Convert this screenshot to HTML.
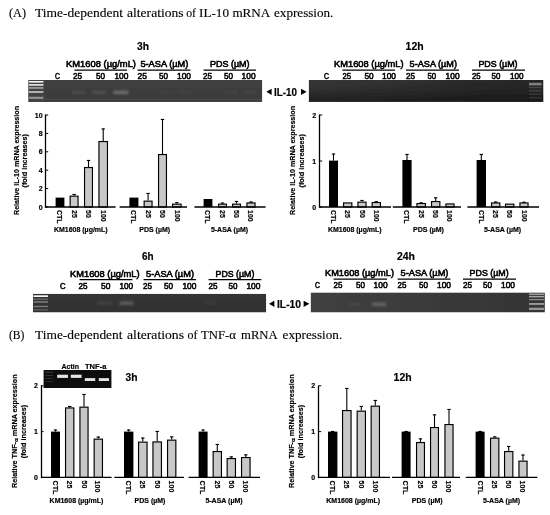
<!DOCTYPE html>
<html lang="en">
<head>
<meta charset="utf-8">
<title>Time-dependent alterations of IL-10 and TNF-α mRNA expression</title>
<style>
html,body{margin:0;padding:0;background:#fff;}
body{width:550px;height:515px;overflow:hidden;}
svg{display:block;}
text{fill:#000;}
.s{font-family:"Liberation Sans", Arial, sans-serif;font-weight:bold;stroke:#000;stroke-width:.18px;}
.sn{font-family:"Liberation Sans", Arial, sans-serif;font-weight:normal;}
.r{font-family:"Liberation Serif", "DejaVu Serif", serif;font-weight:normal;}
</style>
</head>
<body>
<svg width="550" height="515" viewBox="0 0 550 515">
<defs>
<filter id="soft" x="0" y="0" width="550" height="515" filterUnits="userSpaceOnUse"><feGaussianBlur stdDeviation="0.32"/></filter>
<filter id="b" x="-20%" y="-60%" width="140%" height="220%"><feGaussianBlur stdDeviation="0.5"/></filter>
<filter id="b2" x="-20%" y="-60%" width="140%" height="220%"><feGaussianBlur stdDeviation="0.9"/></filter>
<linearGradient id="g3" x1="0" y1="0" x2="0" y2="1"><stop offset="0" stop-color="#424242"/><stop offset="0.8" stop-color="#3a3a3a"/><stop offset="0.9" stop-color="#464646"/><stop offset="1" stop-color="#2c2c2c"/></linearGradient>
<linearGradient id="g12" x1="0" y1="0" x2="1" y2="0"><stop offset="0" stop-color="#363636"/><stop offset="0.45" stop-color="#303030"/><stop offset="0.7" stop-color="#2a2a2a"/><stop offset="1" stop-color="#282828"/></linearGradient>
<linearGradient id="gv" x1="0" y1="0" x2="0" y2="1"><stop offset="0" stop-color="#000" stop-opacity="0"/><stop offset="0.45" stop-color="#000" stop-opacity="0.12"/><stop offset="1" stop-color="#000" stop-opacity="0.42"/></linearGradient>
<linearGradient id="g6" x1="0" y1="0" x2="0" y2="1"><stop offset="0" stop-color="#363636"/><stop offset="1" stop-color="#303030"/></linearGradient>
<linearGradient id="g24" x1="0" y1="0" x2="1" y2="0"><stop offset="0" stop-color="#404040"/><stop offset="1" stop-color="#343434"/></linearGradient>
</defs>
<rect x="0" y="0" width="550" height="515" fill="#fff"/>
<text class="r" y="16.5" font-size="12.4" stroke="#000" stroke-width="0.12"><tspan x="9" textLength="17" lengthAdjust="spacingAndGlyphs">(A)</tspan> <tspan x="35" textLength="88" lengthAdjust="spacingAndGlyphs">Time-dependent</tspan> <tspan x="127" textLength="56.6" lengthAdjust="spacingAndGlyphs">alterations</tspan> <tspan x="186.2" textLength="9.8" lengthAdjust="spacingAndGlyphs">of</tspan> <tspan x="199" textLength="30" lengthAdjust="spacingAndGlyphs">IL-10</tspan> <tspan x="232.4" textLength="37.2" lengthAdjust="spacingAndGlyphs">mRNA</tspan> <tspan x="274" textLength="59.4" lengthAdjust="spacingAndGlyphs">expression.</tspan></text>
<text class="r" y="338.7" font-size="12.4" stroke="#000" stroke-width="0.12"><tspan x="9" textLength="15.4" lengthAdjust="spacingAndGlyphs">(B)</tspan> <tspan x="35" textLength="87.5" lengthAdjust="spacingAndGlyphs">Time-dependent</tspan> <tspan x="127" textLength="57" lengthAdjust="spacingAndGlyphs">alterations</tspan> <tspan x="187.4" textLength="10" lengthAdjust="spacingAndGlyphs">of</tspan> <tspan x="201" textLength="35" lengthAdjust="spacingAndGlyphs">TNF-α</tspan> <tspan x="241" textLength="36" lengthAdjust="spacingAndGlyphs">mRNA</tspan> <tspan x="282.6" textLength="59.6" lengthAdjust="spacingAndGlyphs">expression.</tspan></text>
<g filter="url(#soft)">
<clipPath id="cg3"><rect x="28.2" y="80" width="234.1" height="21.9"/></clipPath>
<g clip-path="url(#cg3)">
<rect x="28.2" y="80" width="234.1" height="21.9" fill="url(#g3)"/>
<rect x="28.2" y="80" width="16.3" height="21.9" fill="#4a4a4a" opacity="0.6" filter="url(#b2)"/>
<rect x="28.8" y="81" width="14.6" height="1.6" fill="#f6f6f6" opacity="1" filter="url(#b)"/>
<rect x="28.8" y="84" width="14.6" height="1.8" fill="#d8d8d8" opacity="1" filter="url(#b)"/>
<rect x="28.8" y="87.2" width="14.6" height="1.5" fill="#a8a8a8" opacity="1" filter="url(#b)"/>
<rect x="28.8" y="91" width="14.6" height="2" fill="#b0b0b0" opacity="1" filter="url(#b)"/>
<rect x="28.8" y="96.8" width="14.6" height="2" fill="#989898" opacity="1" filter="url(#b)"/>
<rect x="72" y="90.8" width="13" height="3.2" fill="#4b4b4b" opacity="1" filter="url(#b2)"/>
<rect x="92" y="90.8" width="14" height="3.2" fill="#505050" opacity="1" filter="url(#b2)"/>
<rect x="113.5" y="90.6" width="15" height="3.6" fill="#6c6c6c" opacity="1" filter="url(#b2)"/>
<rect x="181" y="90.8" width="13" height="3.2" fill="#464646" opacity="0.6" filter="url(#b2)"/>
<rect x="160" y="90.8" width="12" height="3.2" fill="#454545" opacity="0.5" filter="url(#b2)"/>
<rect x="225" y="90.8" width="13" height="3.2" fill="#4a4a4a" opacity="0.6" filter="url(#b2)"/>
<rect x="243" y="90.8" width="13" height="3.2" fill="#4c4c4c" opacity="0.6" filter="url(#b2)"/>
</g>
<clipPath id="cg12"><rect x="308.7" y="80" width="234.8" height="21.9"/></clipPath>
<g clip-path="url(#cg12)">
<rect x="308.7" y="80" width="234.8" height="21.9" fill="url(#g12)"/>
<rect x="308.7" y="80" width="234.8" height="21.9" fill="url(#gv)"/>
<rect x="529" y="82.8" width="12.6" height="2.6" fill="#808080" opacity="1" filter="url(#b)"/>
<rect x="529" y="87" width="12.6" height="1.2" fill="#484848" opacity="1" filter="url(#b)"/>
<rect x="529" y="90" width="12.6" height="1.4" fill="#404040" opacity="1" filter="url(#b)"/>
<rect x="529" y="93.5" width="12.6" height="1.5" fill="#383838" opacity="1" filter="url(#b)"/>
<rect x="529" y="97" width="12.6" height="1.5" fill="#303030" opacity="1" filter="url(#b)"/>
</g>
<clipPath id="cg6"><rect x="32.9" y="293.7" width="233.3" height="18.8"/></clipPath>
<g clip-path="url(#cg6)">
<rect x="32.9" y="293.7" width="233.3" height="18.8" fill="url(#g6)"/>
<rect x="33.4" y="295.3" width="14.6" height="1.7" fill="#f4f4f4" opacity="1" filter="url(#b)"/>
<rect x="33.4" y="298.7" width="14.6" height="0.9" fill="#808080" opacity="1" filter="url(#b)"/>
<rect x="33.4" y="301.3" width="14.6" height="1.3" fill="#8a8a8a" opacity="1" filter="url(#b)"/>
<rect x="33.4" y="305.8" width="14.6" height="1.4" fill="#7c7c7c" opacity="1" filter="url(#b)"/>
<rect x="33.4" y="309.3" width="14.6" height="1.1" fill="#6a6a6a" opacity="1" filter="url(#b)"/>
<rect x="97.5" y="301.4" width="14.5" height="3.6" fill="#424242" opacity="1" filter="url(#b2)"/>
<rect x="119.5" y="301.2" width="14" height="4" fill="#585858" opacity="1" filter="url(#b2)"/>
<rect x="205" y="301.4" width="12" height="3" fill="#3e3e3e" opacity="0.8" filter="url(#b2)"/>
</g>
<clipPath id="cg24"><rect x="310.6" y="292.4" width="234.3" height="20.1"/></clipPath>
<g clip-path="url(#cg24)">
<rect x="310.6" y="292.4" width="234.3" height="20.1" fill="url(#g24)"/>
<rect x="529" y="293.5" width="15.2" height="1.6" fill="#9c9c9c" opacity="1" filter="url(#b)"/>
<rect x="529" y="296" width="15.2" height="1.4" fill="#a4a4a4" opacity="1" filter="url(#b)"/>
<rect x="529" y="299" width="15.2" height="1.2" fill="#8c8c8c" opacity="1" filter="url(#b)"/>
<rect x="529" y="303" width="15.2" height="1.9" fill="#9a9a9a" opacity="1" filter="url(#b)"/>
<rect x="529" y="307.7" width="15.2" height="2.3" fill="#949494" opacity="1" filter="url(#b)"/>
<rect x="349" y="302.6" width="12.5" height="3.4" fill="#484848" opacity="0.8" filter="url(#b2)"/>
<rect x="372.2" y="302.4" width="14" height="3.8" fill="#626262" opacity="1" filter="url(#b2)"/>
</g>
<text class="s" x="137" y="50" font-size="10.4" textLength="12" lengthAdjust="spacingAndGlyphs">3h</text>
<text class="sn" x="55" y="79" font-size="8.6" textLength="5" lengthAdjust="spacingAndGlyphs" stroke="#000" stroke-width="0.55">C</text>
<text class="sn" x="66" y="66.6" font-size="8.6" textLength="70" lengthAdjust="spacingAndGlyphs" stroke="#000" stroke-width="0.55">KM1608 (µg/mL)</text>
<line x1="74.4" y1="70.1" x2="127" y2="70.1" stroke="#000" stroke-width="1.2"/>
<text class="sn" x="73" y="79" font-size="8.6" textLength="9" lengthAdjust="spacingAndGlyphs" stroke="#000" stroke-width="0.55">25</text>
<text class="sn" x="96" y="79" font-size="8.6" textLength="9" lengthAdjust="spacingAndGlyphs" stroke="#000" stroke-width="0.55">50</text>
<text class="sn" x="114.4" y="79" font-size="8.6" textLength="14" lengthAdjust="spacingAndGlyphs" stroke="#000" stroke-width="0.55">100</text>
<text class="sn" x="140.4" y="66.6" font-size="8.6" textLength="48" lengthAdjust="spacingAndGlyphs" stroke="#000" stroke-width="0.55">5-ASA (µM)</text>
<line x1="137.6" y1="70.1" x2="190.4" y2="70.1" stroke="#000" stroke-width="1.2"/>
<text class="sn" x="137.6" y="79" font-size="8.6" textLength="9.4" lengthAdjust="spacingAndGlyphs" stroke="#000" stroke-width="0.55">25</text>
<text class="sn" x="159" y="79" font-size="8.6" textLength="9" lengthAdjust="spacingAndGlyphs" stroke="#000" stroke-width="0.55">50</text>
<text class="sn" x="177" y="79" font-size="8.6" textLength="14" lengthAdjust="spacingAndGlyphs" stroke="#000" stroke-width="0.55">100</text>
<text class="sn" x="210" y="66.6" font-size="8.6" textLength="39.6" lengthAdjust="spacingAndGlyphs" stroke="#000" stroke-width="0.55">PDS (µM)</text>
<line x1="203.6" y1="70.1" x2="256" y2="70.1" stroke="#000" stroke-width="1.2"/>
<text class="sn" x="203" y="79" font-size="8.6" textLength="9" lengthAdjust="spacingAndGlyphs" stroke="#000" stroke-width="0.55">25</text>
<text class="sn" x="224" y="79" font-size="8.6" textLength="9" lengthAdjust="spacingAndGlyphs" stroke="#000" stroke-width="0.55">50</text>
<text class="sn" x="241.6" y="79" font-size="8.6" textLength="14" lengthAdjust="spacingAndGlyphs" stroke="#000" stroke-width="0.55">100</text>
<text class="s" x="405.6" y="50" font-size="10.4" textLength="18" lengthAdjust="spacingAndGlyphs">12h</text>
<text class="sn" x="324" y="79" font-size="8.6" textLength="5" lengthAdjust="spacingAndGlyphs" stroke="#000" stroke-width="0.55">C</text>
<text class="sn" x="334" y="66.6" font-size="8.6" textLength="69.6" lengthAdjust="spacingAndGlyphs" stroke="#000" stroke-width="0.55">KM1608 (µg/mL)</text>
<line x1="342.4" y1="70.1" x2="395" y2="70.1" stroke="#000" stroke-width="1.2"/>
<text class="sn" x="342.4" y="79" font-size="8.6" textLength="8.6" lengthAdjust="spacingAndGlyphs" stroke="#000" stroke-width="0.55">25</text>
<text class="sn" x="364.4" y="79" font-size="8.6" textLength="9.2" lengthAdjust="spacingAndGlyphs" stroke="#000" stroke-width="0.55">50</text>
<text class="sn" x="382" y="79" font-size="8.6" textLength="14" lengthAdjust="spacingAndGlyphs" stroke="#000" stroke-width="0.55">100</text>
<text class="sn" x="409.6" y="66.6" font-size="8.6" textLength="47.4" lengthAdjust="spacingAndGlyphs" stroke="#000" stroke-width="0.55">5-ASA (µM)</text>
<line x1="406" y1="70.1" x2="459" y2="70.1" stroke="#000" stroke-width="1.2"/>
<text class="sn" x="406" y="79" font-size="8.6" textLength="9" lengthAdjust="spacingAndGlyphs" stroke="#000" stroke-width="0.55">25</text>
<text class="sn" x="427.4" y="79" font-size="8.6" textLength="8.6" lengthAdjust="spacingAndGlyphs" stroke="#000" stroke-width="0.55">50</text>
<text class="sn" x="445.6" y="79" font-size="8.6" textLength="14" lengthAdjust="spacingAndGlyphs" stroke="#000" stroke-width="0.55">100</text>
<text class="sn" x="478.4" y="66.6" font-size="8.6" textLength="39.2" lengthAdjust="spacingAndGlyphs" stroke="#000" stroke-width="0.55">PDS (µM)</text>
<line x1="472" y1="70.1" x2="525" y2="70.1" stroke="#000" stroke-width="1.2"/>
<text class="sn" x="472" y="79" font-size="8.6" textLength="8.6" lengthAdjust="spacingAndGlyphs" stroke="#000" stroke-width="0.55">25</text>
<text class="sn" x="491.6" y="79" font-size="8.6" textLength="8.8" lengthAdjust="spacingAndGlyphs" stroke="#000" stroke-width="0.55">50</text>
<text class="sn" x="510" y="79" font-size="8.6" textLength="13.6" lengthAdjust="spacingAndGlyphs" stroke="#000" stroke-width="0.55">100</text>
<text class="s" x="142" y="260" font-size="10.4" textLength="11.6" lengthAdjust="spacingAndGlyphs">6h</text>
<text class="sn" x="60" y="289" font-size="8.6" textLength="5.6" lengthAdjust="spacingAndGlyphs" stroke="#000" stroke-width="0.55">C</text>
<text class="sn" x="70" y="276.6" font-size="8.6" textLength="69.6" lengthAdjust="spacingAndGlyphs" stroke="#000" stroke-width="0.55">KM1608 (µg/mL)</text>
<line x1="79.6" y1="279.7" x2="132.4" y2="279.7" stroke="#000" stroke-width="1.2"/>
<text class="sn" x="78.6" y="289" font-size="8.6" textLength="9" lengthAdjust="spacingAndGlyphs" stroke="#000" stroke-width="0.55">25</text>
<text class="sn" x="101" y="289" font-size="8.6" textLength="9.4" lengthAdjust="spacingAndGlyphs" stroke="#000" stroke-width="0.55">50</text>
<text class="sn" x="119.4" y="289" font-size="8.6" textLength="13.6" lengthAdjust="spacingAndGlyphs" stroke="#000" stroke-width="0.55">100</text>
<text class="sn" x="146" y="276.6" font-size="8.6" textLength="48" lengthAdjust="spacingAndGlyphs" stroke="#000" stroke-width="0.55">5-ASA (µM)</text>
<line x1="143.6" y1="279.7" x2="196" y2="279.7" stroke="#000" stroke-width="1.2"/>
<text class="sn" x="143" y="289" font-size="8.6" textLength="9" lengthAdjust="spacingAndGlyphs" stroke="#000" stroke-width="0.55">25</text>
<text class="sn" x="164" y="289" font-size="8.6" textLength="9" lengthAdjust="spacingAndGlyphs" stroke="#000" stroke-width="0.55">50</text>
<text class="sn" x="182.4" y="289" font-size="8.6" textLength="14" lengthAdjust="spacingAndGlyphs" stroke="#000" stroke-width="0.55">100</text>
<text class="sn" x="215.6" y="276.6" font-size="8.6" textLength="38.8" lengthAdjust="spacingAndGlyphs" stroke="#000" stroke-width="0.55">PDS (µM)</text>
<line x1="208.6" y1="279.7" x2="261.4" y2="279.7" stroke="#000" stroke-width="1.2"/>
<text class="sn" x="208.6" y="289" font-size="8.6" textLength="9" lengthAdjust="spacingAndGlyphs" stroke="#000" stroke-width="0.55">25</text>
<text class="sn" x="228.6" y="289" font-size="8.6" textLength="9" lengthAdjust="spacingAndGlyphs" stroke="#000" stroke-width="0.55">50</text>
<text class="sn" x="246.4" y="289" font-size="8.6" textLength="14" lengthAdjust="spacingAndGlyphs" stroke="#000" stroke-width="0.55">100</text>
<text class="s" x="397" y="260" font-size="10.4" textLength="18" lengthAdjust="spacingAndGlyphs">24h</text>
<text class="sn" x="315" y="288" font-size="8.6" textLength="5" lengthAdjust="spacingAndGlyphs" stroke="#000" stroke-width="0.55">C</text>
<text class="sn" x="325" y="276" font-size="8.6" textLength="69" lengthAdjust="spacingAndGlyphs" stroke="#000" stroke-width="0.55">KM1608 (µg/mL)</text>
<line x1="333.6" y1="279.1" x2="387" y2="279.1" stroke="#000" stroke-width="1.2"/>
<text class="sn" x="333.6" y="288" font-size="8.6" textLength="8.8" lengthAdjust="spacingAndGlyphs" stroke="#000" stroke-width="0.55">25</text>
<text class="sn" x="356" y="288" font-size="8.6" textLength="9" lengthAdjust="spacingAndGlyphs" stroke="#000" stroke-width="0.55">50</text>
<text class="sn" x="373.6" y="288" font-size="8.6" textLength="14" lengthAdjust="spacingAndGlyphs" stroke="#000" stroke-width="0.55">100</text>
<text class="sn" x="400.6" y="276" font-size="8.6" textLength="47.8" lengthAdjust="spacingAndGlyphs" stroke="#000" stroke-width="0.55">5-ASA (µM)</text>
<line x1="397.6" y1="279.1" x2="450.4" y2="279.1" stroke="#000" stroke-width="1.2"/>
<text class="sn" x="397.6" y="288" font-size="8.6" textLength="8.8" lengthAdjust="spacingAndGlyphs" stroke="#000" stroke-width="0.55">25</text>
<text class="sn" x="419" y="288" font-size="8.6" textLength="9" lengthAdjust="spacingAndGlyphs" stroke="#000" stroke-width="0.55">50</text>
<text class="sn" x="437" y="288" font-size="8.6" textLength="14" lengthAdjust="spacingAndGlyphs" stroke="#000" stroke-width="0.55">100</text>
<text class="sn" x="469.6" y="276" font-size="8.6" textLength="39" lengthAdjust="spacingAndGlyphs" stroke="#000" stroke-width="0.55">PDS (µM)</text>
<line x1="463" y1="279.1" x2="516" y2="279.1" stroke="#000" stroke-width="1.2"/>
<text class="sn" x="463" y="288" font-size="8.6" textLength="9" lengthAdjust="spacingAndGlyphs" stroke="#000" stroke-width="0.55">25</text>
<text class="sn" x="483" y="288" font-size="8.6" textLength="9" lengthAdjust="spacingAndGlyphs" stroke="#000" stroke-width="0.55">50</text>
<text class="sn" x="501" y="288" font-size="8.6" textLength="14" lengthAdjust="spacingAndGlyphs" stroke="#000" stroke-width="0.55">100</text>
<polygon points="266.4,91.8 271.6,88.68 271.6,94.92" fill="#000"/>
<polygon points="306.6,91.8 301,88.68 301,94.92" fill="#000"/>
<text class="s" x="274" y="95.5" font-size="10" textLength="23" lengthAdjust="spacingAndGlyphs">IL-10</text>
<polygon points="269,303.8 274.4,300.68 274.4,306.92" fill="#000"/>
<polygon points="309.4,303.8 303.6,300.68 303.6,306.92" fill="#000"/>
<text class="s" x="277" y="307.5" font-size="10" textLength="24" lengthAdjust="spacingAndGlyphs">IL-10</text>
<rect x="55.6" y="197.6" width="8.8" height="9.4" fill="#000"/>
<line x1="74.1" y1="194" x2="74.1" y2="195.6" stroke="#000" stroke-width="1.1"/>
<line x1="72.4" y1="194.45" x2="75.8" y2="194.45" stroke="#000" stroke-width="1.1"/>
<rect x="70.15" y="196.15" width="7.9" height="10.85" fill="#c8c8c8" stroke="#000" stroke-width="1.15"/>
<line x1="88.5" y1="160" x2="88.5" y2="167" stroke="#000" stroke-width="1.1"/>
<line x1="86.8" y1="160.45" x2="90.2" y2="160.45" stroke="#000" stroke-width="1.1"/>
<rect x="84.55" y="167.55" width="7.9" height="39.45" fill="#c8c8c8" stroke="#000" stroke-width="1.15"/>
<line x1="103.2" y1="128.5" x2="103.2" y2="141" stroke="#000" stroke-width="1.1"/>
<line x1="101.5" y1="128.95" x2="104.9" y2="128.95" stroke="#000" stroke-width="1.1"/>
<rect x="98.95" y="141.55" width="8.5" height="65.45" fill="#c8c8c8" stroke="#000" stroke-width="1.15"/>
<rect x="129.4" y="197.6" width="9" height="9.4" fill="#000"/>
<line x1="148.1" y1="193" x2="148.1" y2="200.6" stroke="#000" stroke-width="1.1"/>
<line x1="146.4" y1="193.45" x2="149.8" y2="193.45" stroke="#000" stroke-width="1.1"/>
<rect x="144.15" y="201.15" width="7.9" height="5.85" fill="#c8c8c8" stroke="#000" stroke-width="1.15"/>
<line x1="162.5" y1="119" x2="162.5" y2="154" stroke="#000" stroke-width="1.1"/>
<line x1="160.8" y1="119.45" x2="164.2" y2="119.45" stroke="#000" stroke-width="1.1"/>
<rect x="158.55" y="154.55" width="7.9" height="52.45" fill="#c8c8c8" stroke="#000" stroke-width="1.15"/>
<line x1="176.8" y1="202.2" x2="176.8" y2="203.6" stroke="#000" stroke-width="1.1"/>
<line x1="175.1" y1="202.65" x2="178.5" y2="202.65" stroke="#000" stroke-width="1.1"/>
<rect x="172.55" y="204.15" width="8.5" height="2.85" fill="#c8c8c8" stroke="#000" stroke-width="1.15"/>
<rect x="203.6" y="199" width="8.8" height="8" fill="#000"/>
<line x1="222.5" y1="202.6" x2="222.5" y2="203.6" stroke="#000" stroke-width="1.1"/>
<line x1="220.8" y1="203.05" x2="224.2" y2="203.05" stroke="#000" stroke-width="1.1"/>
<rect x="218.55" y="204.15" width="7.9" height="2.85" fill="#c8c8c8" stroke="#000" stroke-width="1.15"/>
<line x1="236.5" y1="201" x2="236.5" y2="203.6" stroke="#000" stroke-width="1.1"/>
<line x1="234.8" y1="201.45" x2="238.2" y2="201.45" stroke="#000" stroke-width="1.1"/>
<rect x="232.55" y="204.15" width="7.9" height="2.85" fill="#c8c8c8" stroke="#000" stroke-width="1.15"/>
<line x1="251" y1="201.6" x2="251" y2="202.4" stroke="#000" stroke-width="1.1"/>
<line x1="249.3" y1="202.05" x2="252.7" y2="202.05" stroke="#000" stroke-width="1.1"/>
<rect x="246.95" y="202.95" width="8.1" height="4.05" fill="#c8c8c8" stroke="#000" stroke-width="1.15"/>
<line x1="45.5" y1="114.5" x2="45.5" y2="207.8" stroke="#000" stroke-width="1.3"/>
<line x1="45.6" y1="207" x2="115.6" y2="207" stroke="#000" stroke-width="1.4"/>
<line x1="119.6" y1="207" x2="187" y2="207" stroke="#000" stroke-width="1.4"/>
<line x1="194.4" y1="207" x2="265.6" y2="207" stroke="#000" stroke-width="1.4"/>
<line x1="45.6" y1="207" x2="48.2" y2="207" stroke="#000" stroke-width="1"/>
<text class="s" x="42.6" y="209.55" font-size="7" text-anchor="end">0</text>
<line x1="45.6" y1="188.6" x2="48.2" y2="188.6" stroke="#000" stroke-width="1"/>
<text class="s" x="42.6" y="191.15" font-size="7" text-anchor="end">2</text>
<line x1="45.6" y1="170.2" x2="48.2" y2="170.2" stroke="#000" stroke-width="1"/>
<text class="s" x="42.6" y="172.75" font-size="7" text-anchor="end">4</text>
<line x1="45.6" y1="151.8" x2="48.2" y2="151.8" stroke="#000" stroke-width="1"/>
<text class="s" x="42.6" y="154.35" font-size="7" text-anchor="end">6</text>
<line x1="45.6" y1="133.4" x2="48.2" y2="133.4" stroke="#000" stroke-width="1"/>
<text class="s" x="42.6" y="135.95" font-size="7" text-anchor="end">8</text>
<line x1="45.6" y1="115" x2="48.2" y2="115" stroke="#000" stroke-width="1"/>
<text class="s" x="42.6" y="117.55" font-size="7" text-anchor="end">10</text>
<text class="s" font-size="7" transform="translate(57.1,210) rotate(90)">CTL</text>
<text class="s" font-size="7" transform="translate(71.5,210) rotate(90)">25</text>
<text class="s" font-size="7" transform="translate(86.1,210) rotate(90)">50</text>
<text class="s" font-size="7" transform="translate(100.5,210) rotate(90)">100</text>
<text class="s" font-size="7" transform="translate(131.1,210) rotate(90)">CTL</text>
<text class="s" font-size="7" transform="translate(145.5,210) rotate(90)">25</text>
<text class="s" font-size="7" transform="translate(160.1,210) rotate(90)">50</text>
<text class="s" font-size="7" transform="translate(174.5,210) rotate(90)">100</text>
<text class="s" font-size="7" transform="translate(205.1,210) rotate(90)">CTL</text>
<text class="s" font-size="7" transform="translate(219.9,210) rotate(90)">25</text>
<text class="s" font-size="7" transform="translate(234.1,210) rotate(90)">50</text>
<text class="s" font-size="7" transform="translate(247.9,210) rotate(90)">100</text>
<text class="s" x="80.8" y="232.2" font-size="7" text-anchor="middle">KM1608 (µg/mL)</text>
<text class="s" x="154.7" y="232.2" font-size="7" text-anchor="middle">PDS (µM)</text>
<text class="s" x="229.5" y="232.2" font-size="7" text-anchor="middle">5-ASA (µM)</text>
<text class="s" font-size="7" text-anchor="middle" textLength="109" lengthAdjust="spacingAndGlyphs" transform="translate(19,160.5) rotate(-90)">Relative IL-10 mRNA expression</text>
<text class="s" font-size="7" text-anchor="middle" transform="translate(27.2,160.8) rotate(-90)" textLength="53.4" lengthAdjust="spacingAndGlyphs">(fold increases)</text>
<line x1="333.5" y1="153.6" x2="333.5" y2="160.6" stroke="#000" stroke-width="1.1"/>
<line x1="331.8" y1="154.05" x2="335.2" y2="154.05" stroke="#000" stroke-width="1.1"/>
<rect x="329" y="160.6" width="9" height="46.4" fill="#000"/>
<rect x="343.55" y="202.95" width="8.3" height="4.05" fill="#c8c8c8" stroke="#000" stroke-width="1.15"/>
<line x1="362" y1="200" x2="362" y2="201.6" stroke="#000" stroke-width="1.1"/>
<line x1="360.3" y1="200.45" x2="363.7" y2="200.45" stroke="#000" stroke-width="1.1"/>
<rect x="357.95" y="202.15" width="8.1" height="4.85" fill="#c8c8c8" stroke="#000" stroke-width="1.15"/>
<line x1="376.3" y1="201.2" x2="376.3" y2="202" stroke="#000" stroke-width="1.1"/>
<line x1="374.6" y1="201.65" x2="378" y2="201.65" stroke="#000" stroke-width="1.1"/>
<rect x="372.15" y="202.55" width="8.3" height="4.45" fill="#c8c8c8" stroke="#000" stroke-width="1.15"/>
<line x1="407" y1="154" x2="407" y2="160" stroke="#000" stroke-width="1.1"/>
<line x1="405.3" y1="154.45" x2="408.7" y2="154.45" stroke="#000" stroke-width="1.1"/>
<rect x="402.4" y="160" width="9.2" height="47" fill="#000"/>
<line x1="421.2" y1="202.4" x2="421.2" y2="203" stroke="#000" stroke-width="1.1"/>
<line x1="419.5" y1="202.85" x2="422.9" y2="202.85" stroke="#000" stroke-width="1.1"/>
<rect x="416.95" y="203.55" width="8.5" height="3.45" fill="#c8c8c8" stroke="#000" stroke-width="1.15"/>
<line x1="435.7" y1="197.4" x2="435.7" y2="201" stroke="#000" stroke-width="1.1"/>
<line x1="434" y1="197.85" x2="437.4" y2="197.85" stroke="#000" stroke-width="1.1"/>
<rect x="431.55" y="201.55" width="8.3" height="5.45" fill="#c8c8c8" stroke="#000" stroke-width="1.15"/>
<rect x="445.95" y="203.95" width="8.1" height="3.05" fill="#c8c8c8" stroke="#000" stroke-width="1.15"/>
<line x1="481.3" y1="154" x2="481.3" y2="160" stroke="#000" stroke-width="1.1"/>
<line x1="479.6" y1="154.45" x2="483" y2="154.45" stroke="#000" stroke-width="1.1"/>
<rect x="476.6" y="160" width="9.4" height="47" fill="#000"/>
<line x1="495.7" y1="201.6" x2="495.7" y2="202.4" stroke="#000" stroke-width="1.1"/>
<line x1="494" y1="202.05" x2="497.4" y2="202.05" stroke="#000" stroke-width="1.1"/>
<rect x="491.55" y="202.95" width="8.3" height="4.05" fill="#c8c8c8" stroke="#000" stroke-width="1.15"/>
<rect x="505.55" y="204.15" width="8.3" height="2.85" fill="#c8c8c8" stroke="#000" stroke-width="1.15"/>
<line x1="524" y1="201.8" x2="524" y2="202.4" stroke="#000" stroke-width="1.1"/>
<line x1="522.3" y1="202.25" x2="525.7" y2="202.25" stroke="#000" stroke-width="1.1"/>
<rect x="519.95" y="202.95" width="8.1" height="4.05" fill="#c8c8c8" stroke="#000" stroke-width="1.15"/>
<line x1="319.5" y1="114.5" x2="319.5" y2="207.8" stroke="#000" stroke-width="1.3"/>
<line x1="319.6" y1="207" x2="391" y2="207" stroke="#000" stroke-width="1.4"/>
<line x1="392.8" y1="207" x2="461" y2="207" stroke="#000" stroke-width="1.4"/>
<line x1="467.4" y1="207" x2="539" y2="207" stroke="#000" stroke-width="1.4"/>
<line x1="319.6" y1="207" x2="322.2" y2="207" stroke="#000" stroke-width="1"/>
<text class="s" x="316.2" y="209.55" font-size="7" text-anchor="end">0</text>
<line x1="319.6" y1="161" x2="322.2" y2="161" stroke="#000" stroke-width="1"/>
<text class="s" x="316.2" y="163.55" font-size="7" text-anchor="end">1</text>
<line x1="319.6" y1="115" x2="322.2" y2="115" stroke="#000" stroke-width="1"/>
<text class="s" x="316.2" y="117.55" font-size="7" text-anchor="end">2</text>
<text class="s" font-size="7" transform="translate(330.5,210) rotate(90)">CTL</text>
<text class="s" font-size="7" transform="translate(345.1,210) rotate(90)">25</text>
<text class="s" font-size="7" transform="translate(359.5,210) rotate(90)">50</text>
<text class="s" font-size="7" transform="translate(373.5,210) rotate(90)">100</text>
<text class="s" font-size="7" transform="translate(404.1,210) rotate(90)">CTL</text>
<text class="s" font-size="7" transform="translate(418.5,210) rotate(90)">25</text>
<text class="s" font-size="7" transform="translate(433.1,210) rotate(90)">50</text>
<text class="s" font-size="7" transform="translate(447.1,210) rotate(90)">100</text>
<text class="s" font-size="7" transform="translate(478.5,210) rotate(90)">CTL</text>
<text class="s" font-size="7" transform="translate(493.1,210) rotate(90)">25</text>
<text class="s" font-size="7" transform="translate(507.1,210) rotate(90)">50</text>
<text class="s" font-size="7" transform="translate(521.5,210) rotate(90)">100</text>
<text class="s" x="354.8" y="232.2" font-size="7" text-anchor="middle">KM1608 (µg/mL)</text>
<text class="s" x="428.5" y="232.2" font-size="7" text-anchor="middle">PDS (µM)</text>
<text class="s" x="502.5" y="232.2" font-size="7" text-anchor="middle">5-ASA (µM)</text>
<text class="s" font-size="7" text-anchor="middle" textLength="109" lengthAdjust="spacingAndGlyphs" transform="translate(295.4,160.5) rotate(-90)">Relative IL-10 mRNA expression</text>
<text class="s" font-size="7" text-anchor="middle" transform="translate(304.2,160.8) rotate(-90)" textLength="53.4" lengthAdjust="spacingAndGlyphs">(fold increases)</text>
<line x1="55.5" y1="429.6" x2="55.5" y2="431.6" stroke="#000" stroke-width="1.1"/>
<line x1="53.8" y1="430.05" x2="57.2" y2="430.05" stroke="#000" stroke-width="1.1"/>
<rect x="51" y="431.6" width="9" height="45.8" fill="#000"/>
<line x1="69.7" y1="406" x2="69.7" y2="407.4" stroke="#000" stroke-width="1.1"/>
<line x1="68" y1="406.45" x2="71.4" y2="406.45" stroke="#000" stroke-width="1.1"/>
<rect x="65.55" y="407.95" width="8.3" height="69.45" fill="#c8c8c8" stroke="#000" stroke-width="1.15"/>
<line x1="84" y1="394" x2="84" y2="406.6" stroke="#000" stroke-width="1.1"/>
<line x1="82.3" y1="394.45" x2="85.7" y2="394.45" stroke="#000" stroke-width="1.1"/>
<rect x="79.95" y="407.15" width="8.1" height="70.25" fill="#c8c8c8" stroke="#000" stroke-width="1.15"/>
<line x1="98.3" y1="436.6" x2="98.3" y2="438.6" stroke="#000" stroke-width="1.1"/>
<line x1="96.6" y1="437.05" x2="100" y2="437.05" stroke="#000" stroke-width="1.1"/>
<rect x="94.15" y="439.15" width="8.3" height="38.25" fill="#c8c8c8" stroke="#000" stroke-width="1.15"/>
<line x1="128.7" y1="429.6" x2="128.7" y2="431.6" stroke="#000" stroke-width="1.1"/>
<line x1="127" y1="430.05" x2="130.4" y2="430.05" stroke="#000" stroke-width="1.1"/>
<rect x="124" y="431.6" width="9.4" height="45.8" fill="#000"/>
<line x1="142.8" y1="437.6" x2="142.8" y2="441.6" stroke="#000" stroke-width="1.1"/>
<line x1="141.1" y1="438.05" x2="144.5" y2="438.05" stroke="#000" stroke-width="1.1"/>
<rect x="138.55" y="442.15" width="8.5" height="35.25" fill="#c8c8c8" stroke="#000" stroke-width="1.15"/>
<line x1="157.2" y1="431" x2="157.2" y2="441.4" stroke="#000" stroke-width="1.1"/>
<line x1="155.5" y1="431.45" x2="158.9" y2="431.45" stroke="#000" stroke-width="1.1"/>
<rect x="152.95" y="441.95" width="8.5" height="35.45" fill="#c8c8c8" stroke="#000" stroke-width="1.15"/>
<line x1="171.7" y1="436.4" x2="171.7" y2="439.6" stroke="#000" stroke-width="1.1"/>
<line x1="170" y1="436.85" x2="173.4" y2="436.85" stroke="#000" stroke-width="1.1"/>
<rect x="167.55" y="440.15" width="8.3" height="37.25" fill="#c8c8c8" stroke="#000" stroke-width="1.15"/>
<line x1="203.1" y1="429.6" x2="203.1" y2="431.6" stroke="#000" stroke-width="1.1"/>
<line x1="201.4" y1="430.05" x2="204.8" y2="430.05" stroke="#000" stroke-width="1.1"/>
<rect x="198.6" y="431.6" width="9" height="45.8" fill="#000"/>
<line x1="217.3" y1="444" x2="217.3" y2="451" stroke="#000" stroke-width="1.1"/>
<line x1="215.6" y1="444.45" x2="219" y2="444.45" stroke="#000" stroke-width="1.1"/>
<rect x="213.15" y="451.55" width="8.3" height="25.85" fill="#c8c8c8" stroke="#000" stroke-width="1.15"/>
<line x1="231.3" y1="456.4" x2="231.3" y2="458" stroke="#000" stroke-width="1.1"/>
<line x1="229.6" y1="456.85" x2="233" y2="456.85" stroke="#000" stroke-width="1.1"/>
<rect x="227.15" y="458.55" width="8.3" height="18.85" fill="#c8c8c8" stroke="#000" stroke-width="1.15"/>
<line x1="245.8" y1="454.4" x2="245.8" y2="457" stroke="#000" stroke-width="1.1"/>
<line x1="244.1" y1="454.85" x2="247.5" y2="454.85" stroke="#000" stroke-width="1.1"/>
<rect x="241.55" y="457.55" width="8.5" height="19.85" fill="#c8c8c8" stroke="#000" stroke-width="1.15"/>
<line x1="41.5" y1="385.3" x2="41.5" y2="478.2" stroke="#000" stroke-width="1.3"/>
<line x1="41" y1="477.4" x2="111.6" y2="477.4" stroke="#000" stroke-width="1.4"/>
<line x1="114.4" y1="477.4" x2="184" y2="477.4" stroke="#000" stroke-width="1.4"/>
<line x1="188.6" y1="477.4" x2="260" y2="477.4" stroke="#000" stroke-width="1.4"/>
<line x1="41" y1="477.4" x2="43.6" y2="477.4" stroke="#000" stroke-width="1"/>
<text class="s" x="37.8" y="479.95" font-size="7" text-anchor="end">0</text>
<line x1="41" y1="431.6" x2="43.6" y2="431.6" stroke="#000" stroke-width="1"/>
<text class="s" x="37.8" y="434.15" font-size="7" text-anchor="end">1</text>
<line x1="41" y1="385.8" x2="43.6" y2="385.8" stroke="#000" stroke-width="1"/>
<text class="s" x="37.8" y="388.35" font-size="7" text-anchor="end">2</text>
<text class="s" font-size="7" transform="translate(52.5,480.6) rotate(90)">CTL</text>
<text class="s" font-size="7" transform="translate(66.9,480.6) rotate(90)">25</text>
<text class="s" font-size="7" transform="translate(81.5,480.6) rotate(90)">50</text>
<text class="s" font-size="7" transform="translate(95.1,480.6) rotate(90)">100</text>
<text class="s" font-size="7" transform="translate(125.5,480.6) rotate(90)">CTL</text>
<text class="s" font-size="7" transform="translate(140.1,480.6) rotate(90)">25</text>
<text class="s" font-size="7" transform="translate(154.5,480.6) rotate(90)">50</text>
<text class="s" font-size="7" transform="translate(168.5,480.6) rotate(90)">100</text>
<text class="s" font-size="7" transform="translate(200.1,480.6) rotate(90)">CTL</text>
<text class="s" font-size="7" transform="translate(214.9,480.6) rotate(90)">25</text>
<text class="s" font-size="7" transform="translate(228.9,480.6) rotate(90)">50</text>
<text class="s" font-size="7" transform="translate(243.1,480.6) rotate(90)">100</text>
<text class="s" x="76.5" y="502.7" font-size="7" text-anchor="middle">KM1608 (µg/mL)</text>
<text class="s" x="150" y="502.7" font-size="7" text-anchor="middle">PDS (µM)</text>
<text class="s" x="224" y="502.7" font-size="7" text-anchor="middle">5-ASA (µM)</text>
<text class="s" font-size="7" text-anchor="middle" textLength="113.6" lengthAdjust="spacingAndGlyphs" transform="translate(17,431.2) rotate(-90)">Relative TNF-<tspan font-size="6" dy="0.8">α</tspan><tspan dy="-0.8"> mRNA expression</tspan></text>
<text class="s" font-size="7" text-anchor="middle" transform="translate(26.4,431.5) rotate(-90)" textLength="53.4" lengthAdjust="spacingAndGlyphs">(fold increases)</text>
<line x1="332.7" y1="431" x2="332.7" y2="431.6" stroke="#000" stroke-width="1.1"/>
<line x1="331" y1="431.45" x2="334.4" y2="431.45" stroke="#000" stroke-width="1.1"/>
<rect x="328" y="431.6" width="9.4" height="45.8" fill="#000"/>
<line x1="346.8" y1="388" x2="346.8" y2="410" stroke="#000" stroke-width="1.1"/>
<line x1="345.1" y1="388.45" x2="348.5" y2="388.45" stroke="#000" stroke-width="1.1"/>
<rect x="342.55" y="410.55" width="8.5" height="66.85" fill="#c8c8c8" stroke="#000" stroke-width="1.15"/>
<line x1="361.3" y1="406" x2="361.3" y2="410.6" stroke="#000" stroke-width="1.1"/>
<line x1="359.6" y1="406.45" x2="363" y2="406.45" stroke="#000" stroke-width="1.1"/>
<rect x="357.15" y="411.15" width="8.3" height="66.25" fill="#c8c8c8" stroke="#000" stroke-width="1.15"/>
<line x1="375.3" y1="400" x2="375.3" y2="405.6" stroke="#000" stroke-width="1.1"/>
<line x1="373.6" y1="400.45" x2="377" y2="400.45" stroke="#000" stroke-width="1.1"/>
<rect x="371.15" y="406.15" width="8.3" height="71.25" fill="#c8c8c8" stroke="#000" stroke-width="1.15"/>
<line x1="406.1" y1="431" x2="406.1" y2="431.6" stroke="#000" stroke-width="1.1"/>
<line x1="404.4" y1="431.45" x2="407.8" y2="431.45" stroke="#000" stroke-width="1.1"/>
<rect x="401.6" y="431.6" width="9" height="45.8" fill="#000"/>
<line x1="420.5" y1="438.4" x2="420.5" y2="442" stroke="#000" stroke-width="1.1"/>
<line x1="418.8" y1="438.85" x2="422.2" y2="438.85" stroke="#000" stroke-width="1.1"/>
<rect x="416.55" y="442.55" width="7.9" height="34.85" fill="#c8c8c8" stroke="#000" stroke-width="1.15"/>
<line x1="434.5" y1="414.4" x2="434.5" y2="427" stroke="#000" stroke-width="1.1"/>
<line x1="432.8" y1="414.85" x2="436.2" y2="414.85" stroke="#000" stroke-width="1.1"/>
<rect x="430.55" y="427.55" width="7.9" height="49.85" fill="#c8c8c8" stroke="#000" stroke-width="1.15"/>
<line x1="449" y1="409" x2="449" y2="424" stroke="#000" stroke-width="1.1"/>
<line x1="447.3" y1="409.45" x2="450.7" y2="409.45" stroke="#000" stroke-width="1.1"/>
<rect x="444.95" y="424.55" width="8.1" height="52.85" fill="#c8c8c8" stroke="#000" stroke-width="1.15"/>
<line x1="480.1" y1="431" x2="480.1" y2="431.6" stroke="#000" stroke-width="1.1"/>
<line x1="478.4" y1="431.45" x2="481.8" y2="431.45" stroke="#000" stroke-width="1.1"/>
<rect x="475.6" y="431.6" width="9" height="45.8" fill="#000"/>
<line x1="494.7" y1="436.4" x2="494.7" y2="437.6" stroke="#000" stroke-width="1.1"/>
<line x1="493" y1="436.85" x2="496.4" y2="436.85" stroke="#000" stroke-width="1.1"/>
<rect x="490.55" y="438.15" width="8.3" height="39.25" fill="#c8c8c8" stroke="#000" stroke-width="1.15"/>
<line x1="508.7" y1="446" x2="508.7" y2="451" stroke="#000" stroke-width="1.1"/>
<line x1="507" y1="446.45" x2="510.4" y2="446.45" stroke="#000" stroke-width="1.1"/>
<rect x="504.55" y="451.55" width="8.3" height="25.85" fill="#c8c8c8" stroke="#000" stroke-width="1.15"/>
<line x1="523" y1="454.6" x2="523" y2="460.6" stroke="#000" stroke-width="1.1"/>
<line x1="521.3" y1="455.05" x2="524.7" y2="455.05" stroke="#000" stroke-width="1.1"/>
<rect x="518.95" y="461.15" width="8.1" height="16.25" fill="#c8c8c8" stroke="#000" stroke-width="1.15"/>
<line x1="318.5" y1="385.5" x2="318.5" y2="478.2" stroke="#000" stroke-width="1.3"/>
<line x1="318.6" y1="477.4" x2="390" y2="477.4" stroke="#000" stroke-width="1.4"/>
<line x1="392" y1="477.4" x2="460" y2="477.4" stroke="#000" stroke-width="1.4"/>
<line x1="465.8" y1="477.4" x2="537.4" y2="477.4" stroke="#000" stroke-width="1.4"/>
<line x1="318.6" y1="477.4" x2="321.2" y2="477.4" stroke="#000" stroke-width="1"/>
<text class="s" x="315.2" y="479.95" font-size="7" text-anchor="end">0</text>
<line x1="318.6" y1="431.6" x2="321.2" y2="431.6" stroke="#000" stroke-width="1"/>
<text class="s" x="315.2" y="434.15" font-size="7" text-anchor="end">1</text>
<line x1="318.6" y1="385.8" x2="321.2" y2="385.8" stroke="#000" stroke-width="1"/>
<text class="s" x="315.2" y="388.35" font-size="7" text-anchor="end">2</text>
<text class="s" font-size="7" transform="translate(330.1,480.6) rotate(90)">CTL</text>
<text class="s" font-size="7" transform="translate(344.1,480.6) rotate(90)">25</text>
<text class="s" font-size="7" transform="translate(358.5,480.6) rotate(90)">50</text>
<text class="s" font-size="7" transform="translate(372.9,480.6) rotate(90)">100</text>
<text class="s" font-size="7" transform="translate(403.1,480.6) rotate(90)">CTL</text>
<text class="s" font-size="7" transform="translate(417.5,480.6) rotate(90)">25</text>
<text class="s" font-size="7" transform="translate(431.5,480.6) rotate(90)">50</text>
<text class="s" font-size="7" transform="translate(446.1,480.6) rotate(90)">100</text>
<text class="s" font-size="7" transform="translate(477.5,480.6) rotate(90)">CTL</text>
<text class="s" font-size="7" transform="translate(491.5,480.6) rotate(90)">25</text>
<text class="s" font-size="7" transform="translate(506.1,480.6) rotate(90)">50</text>
<text class="s" font-size="7" transform="translate(520.1,480.6) rotate(90)">100</text>
<text class="s" x="353.2" y="502.7" font-size="7" text-anchor="middle">KM1608 (µg/mL)</text>
<text class="s" x="427.2" y="502.7" font-size="7" text-anchor="middle">PDS (µM)</text>
<text class="s" x="501.5" y="502.7" font-size="7" text-anchor="middle">5-ASA (µM)</text>
<text class="s" font-size="7" text-anchor="middle" textLength="113.6" lengthAdjust="spacingAndGlyphs" transform="translate(294.4,431.2) rotate(-90)">Relative TNF-<tspan font-size="6" dy="0.8">α</tspan><tspan dy="-0.8"> mRNA expression</tspan></text>
<text class="s" font-size="7" text-anchor="middle" transform="translate(303.4,431.5) rotate(-90)" textLength="53.4" lengthAdjust="spacingAndGlyphs">(fold increases)</text>
<rect x="43.6" y="370" width="67.8" height="18" fill="#0c0c0c"/>
<rect x="45.2" y="371.8" width="7.8" height="1" fill="#3a3a3a" opacity="1" filter="url(#b)"/>
<rect x="45.2" y="375" width="7.8" height="1" fill="#333" opacity="1" filter="url(#b)"/>
<rect x="45.2" y="378" width="7.8" height="1" fill="#2e2e2e" opacity="1" filter="url(#b)"/>
<rect x="45.2" y="381" width="7.8" height="1" fill="#2a2a2a" opacity="1" filter="url(#b)"/>
<rect x="57.2" y="374.7" width="10.8" height="3.2" fill="#e4e4e4" opacity="1" filter="url(#b)"/>
<rect x="70.8" y="374.7" width="10.8" height="3.2" fill="#e4e4e4" opacity="1" filter="url(#b)"/>
<rect x="84.8" y="378.1" width="10.4" height="2.9" fill="#e4e4e4" opacity="1" filter="url(#b)"/>
<rect x="98.8" y="378.1" width="10.2" height="2.9" fill="#e4e4e4" opacity="1" filter="url(#b)"/>
<text class="s" x="61.4" y="368.5" font-size="7.4" textLength="17.6" lengthAdjust="spacingAndGlyphs">Actin</text>
<text class="s" x="85" y="368.5" font-size="7.4" textLength="21.4" lengthAdjust="spacingAndGlyphs">TNF-a</text>
<text class="s" x="125.6" y="381" font-size="10.4" textLength="12" lengthAdjust="spacingAndGlyphs">3h</text>
<text class="s" x="393.6" y="381" font-size="10.4" textLength="18" lengthAdjust="spacingAndGlyphs">12h</text>
</g>
</svg>
</body>
</html>
